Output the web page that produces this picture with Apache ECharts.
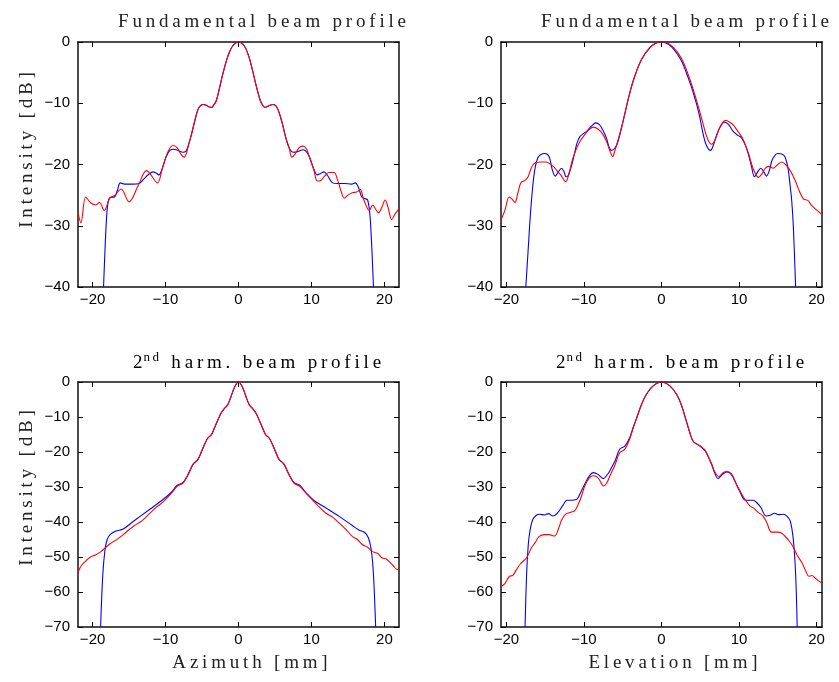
<!DOCTYPE html>
<html>
<head>
<meta charset="utf-8">
<script src="https://cdn.jsdelivr.net/npm/echarts@6/dist/echarts.min.js"></script>
<style>
  html, body { margin: 0; padding: 0; background: #fff; }
  #chart { width: 839px; height: 682px; }
</style>
</head>
<body>
<div id="chart"></div>
<script>
// Beam profiles: blue = measured transducer field, red = simulated field.

// Fundamental, azimuth
const azFundBlueX = [-18.5, -18.3, -18.1, -17.9, -17.6, -17.0, -16.6, -16.2, -15.6, -14.5, -13.6, -13.0, -12.3, -11.7, -11.3, -10.9, -10.5, -9.9, -9.4, -8.9, -8.3, -7.6, -7.2, -6.9, -6.45, -6.0, -5.55, -5.2, -4.86, -4.5, -4.1, -3.7, -3.4, -3.05, -2.6, -2.05, -1.45, -0.8, 0, 0.8, 1.4, 1.95, 2.5, 3.0, 3.35, 3.6, 4.0, 4.7, 5.1, 5.4, 5.75, 6.05, 6.5, 6.95, 7.5, 8.1, 8.85, 9.3, 9.7, 10.35, 10.8, 11.2, 11.7, 12.2, 12.9, 13.5, 14.5, 15.5, 16.0, 16.4, 16.9, 17.4, 17.7, 18.0, 18.25, 18.5];
const azFundBlueY = [-40, -34, -29, -26.3, -25.4, -25.3, -24.2, -23.0, -23.2, -23.2, -23.1, -22.4, -21.6, -21.2, -21.4, -21.7, -20.8, -18.7, -17.7, -17.5, -17.7, -18.0, -17.8, -17.0, -15.1, -12.9, -11.0, -10.4, -10.2, -10.3, -10.55, -10.7, -10.3, -9.6, -7.5, -4.75, -2.3, -0.65, 0, -0.65, -2.3, -4.75, -7.5, -9.6, -10.4, -10.65, -10.5, -10.2, -10.4, -11.0, -12.2, -13.5, -15.7, -17.3, -18.0, -17.9, -17.6, -17.9, -18.7, -20.8, -21.7, -21.5, -21.2, -21.8, -23.0, -23.1, -23.1, -23.2, -23.0, -23.6, -25.3, -25.6, -25.8, -28, -33, -40];
const azFundRedX = [-22, -21.6, -20.95, -20.3, -19.6, -19.05, -18.4, -17.6, -17.0, -16.1, -15.0, -13.7, -12.6, -11.1, -10.5, -9.9, -9.4, -8.95, -8.4, -7.9, -7.45, -7.1, -6.9, -6.45, -6.0, -5.55, -5.2, -4.86, -4.5, -4.1, -3.7, -3.4, -3.05, -2.6, -2.05, -1.45, -0.8, 0, 0.8, 1.4, 1.95, 2.5, 3.0, 3.35, 3.6, 4.0, 4.7, 5.1, 5.4, 5.75, 6.05, 6.5, 6.95, 7.3, 7.7, 8.3, 8.8, 9.3, 9.7, 10.35, 10.8, 11.3, 11.8, 12.4, 13.1, 13.6, 14.1, 14.5, 15.0, 15.6, 16.2, 16.7, 17.1, 17.6, 17.9, 18.4, 18.8, 19.2, 19.7, 20.1, 20.5, 21.0, 21.4, 22];
const azFundRedY = [-27.8, -29.5, -25.3, -26.2, -26.6, -26.2, -27.5, -25.4, -25.1, -24.0, -26.1, -23.3, -21.0, -23.0, -20.9, -18.6, -17.3, -16.9, -17.3, -18.3, -18.8, -18.0, -17.0, -15.1, -12.9, -11.0, -10.4, -10.2, -10.3, -10.55, -10.7, -10.3, -9.6, -7.5, -4.75, -2.3, -0.65, 0, -0.65, -2.3, -4.75, -7.5, -9.6, -10.4, -10.65, -10.5, -10.2, -10.4, -11.0, -12.2, -13.5, -15.7, -17.3, -18.8, -18.4, -17.3, -17.0, -17.4, -18.7, -21.0, -22.7, -22.6, -21.9, -21.3, -21.3, -22.6, -24.5, -25.5, -25.0, -24.6, -24.5, -24.1, -25.5, -27.0, -27.5, -26.6, -27.3, -27.9, -26.8, -25.8, -27.0, -29.0, -28.2, -27.2];

// Fundamental, elevation
const elFundBlueX = [-17.5, -17.2, -16.9, -16.6, -16.3, -15.95, -15.6, -15.05, -14.5, -14.1, -13.7, -13.3, -12.9, -12.6, -12.3, -12.0, -11.6, -11.2, -10.9, -10.5, -10.1, -9.6, -9.0, -8.47, -8.0, -7.6, -7.1, -6.8, -6.45, -6.0, -5.6, -5.16, -4.6, -4.09, -3.44, -2.58, -1.5, -0.8, -0.2, 0.5, 1.4, 2.5, 3.4, 4.17, 4.86, 5.38, 5.8, 6.32, 6.7, 7.1, 7.6, 8.1, 8.6, 9.25, 9.8, 10.3, 10.8, 11.2, 11.6, 12.0, 12.4, 12.8, 13.2, 13.55, 13.9, 14.3, 14.97, 15.5, 15.9, 16.3, 16.55, 16.8, 17.0, 17.3];
const elFundBlueY = [-40, -34, -28, -23.5, -20.5, -18.9, -18.4, -18.2, -18.7, -20.8, -21.9, -21.2, -20.6, -21.1, -22.0, -21.7, -20.2, -18.1, -16.5, -15.4, -15.0, -14.5, -13.7, -13.2, -13.5, -14.3, -15.7, -17.0, -17.7, -17.3, -16.2, -14.0, -11.0, -8.3, -5.56, -2.84, -0.93, -0.25, 0, -0.1, -0.9, -2.9, -5.7, -8.6, -11.8, -15.1, -16.9, -17.7, -16.8, -15.2, -13.8, -13.1, -13.4, -14.6, -15.2, -15.6, -16.8, -18.3, -20.3, -22.0, -21.2, -20.6, -21.2, -21.9, -21.0, -19.2, -18.2, -18.3, -18.7, -20.5, -23, -26, -30, -40];
const elFundRedX = [-20.7, -20.2, -19.65, -19.3, -18.9, -18.5, -18.1, -17.6, -17.2, -16.8, -16.3, -15.5, -14.9, -14.4, -13.9, -13.55, -13.0, -12.35, -12.0, -11.5, -11.0, -10.5, -10.0, -9.5, -8.8, -8.2, -7.6, -7.1, -6.7, -6.3, -6.0, -5.6, -5.16, -4.6, -4.09, -3.44, -2.58, -1.5, -0.7, 0.3, 1.5, 2.6, 3.5, 4.3, 5.03, 5.63, 6.0, 6.45, 6.9, 7.4, 7.8, 8.26, 8.8, 9.3, 9.68, 10.1, 10.45, 11.2, 11.8, 12.5, 12.9, 13.4, 13.8, 14.4, 15.0, 15.5, 16.0, 16.6, 17.2, 17.8, 18.3, 18.9, 19.3, 19.8, 20.2, 20.7];
const elFundRedY = [-29.1, -27.5, -25.3, -25.6, -26.2, -24.5, -22.9, -22.6, -22.0, -20.6, -19.7, -19.6, -19.6, -19.9, -20.4, -20.9, -21.7, -22.8, -21.8, -19.3, -17.5, -16.2, -15.3, -14.5, -13.9, -14.2, -15.0, -16.2, -17.6, -18.7, -17.7, -16.0, -14.0, -11.0, -8.3, -5.56, -2.84, -0.93, -0.15, 0, -0.85, -2.75, -5.5, -8.6, -11.8, -14.6, -16.0, -16.7, -16.0, -14.3, -13.3, -12.8, -13.1, -13.6, -14.3, -15.0, -15.7, -18.1, -20.6, -22.1, -21.6, -20.6, -20.3, -20.6, -20.0, -19.6, -20.0, -21.0, -22.5, -24.4, -25.6, -25.9, -26.6, -27.2, -27.6, -28.2];

// Second harmonic, azimuth
const azHarmBlueX = [-18.9, -18.6, -18.3, -18.0, -17.6, -16.8, -15.8, -14.4, -12.1, -10.3, -9.2, -8.4, -7.6, -6.9, -6.2, -5.55, -5.1, -4.6, -4.2, -3.7, -3.27, -2.8, -2.36, -1.9, -1.45, -1.0, -0.5, 0, 0.5, 1.0, 1.45, 1.9, 2.36, 2.8, 3.27, 3.7, 4.2, 4.6, 5.1, 5.55, 6.2, 6.9, 7.6, 8.4, 9.2, 10.3, 12.0, 13.8, 15.6, 16.5, 17.3, 17.8, 18.2, 18.5, 18.8];
const azHarmBlueY = [-70, -55, -48, -45.0, -43.6, -42.6, -42.0, -39.8, -36.3, -33.5, -31.5, -29.5, -28.7, -26.3, -23.4, -22.1, -20.0, -17.6, -16.0, -15.0, -13.0, -10.7, -8.8, -7.5, -6.4, -4.0, -1.3, 0, -1.3, -4.0, -6.4, -7.5, -8.8, -10.7, -13.0, -15.0, -16.0, -17.6, -20.0, -22.1, -23.4, -26.3, -28.7, -29.5, -31.5, -33.8, -36.0, -38.4, -41.0, -42.3, -43.0, -44.5, -48, -55, -70];
const azHarmRedX = [-22, -21.7, -21.2, -20.3, -19.6, -18.95, -17.6, -16.6, -15.8, -14.4, -13.2, -12.1, -11.2, -10.3, -9.2, -8.4, -7.6, -6.9, -6.2, -5.55, -5.1, -4.6, -4.2, -3.7, -3.27, -2.8, -2.36, -1.9, -1.45, -1.0, -0.5, 0, 0.5, 1.0, 1.45, 1.9, 2.36, 2.8, 3.27, 3.7, 4.2, 4.6, 5.1, 5.55, 6.2, 6.9, 7.6, 8.4, 9.2, 10.1, 11.0, 12.0, 12.9, 13.8, 14.7, 15.6, 16.3, 17.0, 17.7, 18.3, 19.1, 19.7, 20.2, 20.6, 21.2, 21.8, 22];
const azHarmRedY = [-54.6, -53.0, -51.7, -50.0, -49.4, -48.6, -46.2, -44.9, -43.6, -41.2, -39.6, -37.4, -35.7, -34.2, -31.8, -29.8, -28.9, -26.5, -23.5, -22.1, -20.0, -17.6, -16.0, -15.0, -13.0, -10.7, -8.8, -7.5, -6.4, -4.0, -1.3, 0, -1.3, -4.0, -6.4, -7.5, -8.8, -10.7, -13.0, -15.0, -16.0, -17.6, -20.0, -22.1, -23.4, -26.4, -28.9, -29.8, -31.7, -33.6, -35.6, -37.5, -38.6, -40.3, -42.1, -44.1, -45.0, -46.5, -47.2, -48.4, -49.0, -50.3, -50.5, -51.2, -52.5, -53.6, -53.4];

// Second harmonic, elevation
const elHarmBlueX = [-17.6, -17.4, -17.2, -17.0, -16.6, -16.1, -15.7, -15.1, -14.6, -14.0, -13.4, -12.7, -12.2, -11.6, -11.0, -10.75, -10.3, -9.9, -9.3, -8.8, -8.2, -7.5, -7.0, -6.67, -6.0, -5.4, -4.73, -4.1, -3.66, -3.2, -2.58, -1.94, -1.07, 0, 1.07, 1.94, 2.58, 3.14, 3.66, 4.1, 4.95, 5.5, 5.8, 6.45, 6.9, 7.3, 7.8, 8.4, 9.0, 9.7, 10.1, 10.75, 11.3, 11.8, 12.3, 12.8, 13.5, 14.0, 14.6, 15.1, 15.7, 16.2, 16.6, 17.0, 17.3, 17.5];
const elHarmBlueY = [-70, -55, -47, -43, -39.3, -38.0, -37.8, -38.0, -37.6, -38.3, -37.4, -35.2, -33.8, -33.8, -33.6, -33.0, -31.0, -29.2, -26.8, -25.9, -26.4, -27.6, -26.5, -25.4, -22.6, -19.2, -18.3, -15.9, -13.0, -10.2, -6.4, -3.5, -1.1, 0, -1.1, -3.5, -6.6, -10.6, -14.5, -17.0, -18.3, -19.4, -20.3, -23.5, -26.2, -27.6, -26.5, -25.7, -26.4, -29.4, -31.3, -33.7, -33.8, -33.8, -34.5, -35.8, -38.3, -38.1, -37.5, -37.9, -37.8, -38.4, -39.7, -45, -55, -70];
const elHarmRedX = [-20.7, -20.2, -19.6, -19.2, -18.7, -18.2, -17.4, -16.8, -16.3, -15.8, -15.1, -14.5, -13.8, -13.3, -12.9, -12.4, -11.8, -11.2, -10.75, -10.3, -9.9, -9.3, -8.8, -8.2, -7.44, -7.0, -6.67, -6.0, -5.4, -4.73, -4.1, -3.66, -3.2, -2.58, -1.94, -1.07, 0, 1.07, 1.94, 2.58, 3.14, 3.66, 4.1, 4.95, 5.5, 5.8, 6.45, 6.9, 7.44, 7.9, 8.4, 9.0, 9.7, 10.1, 10.75, 11.4, 11.8, 12.5, 13.1, 13.6, 14.2, 15.0, 15.5, 15.9, 16.5, 17.0, 17.5, 18.1, 18.6, 19.0, 19.4, 19.8, 20.3, 20.7];
const elHarmRedY = [-58.4, -57.6, -55.5, -55.3, -53.6, -52.0, -50.2, -47.5, -45.9, -44.2, -43.6, -43.6, -44.0, -42.0, -39.5, -37.8, -37.3, -36.8, -35.0, -32.5, -29.7, -27.4, -26.8, -27.3, -29.7, -28.6, -26.9, -23.7, -20.2, -19.2, -16.3, -13.2, -10.4, -6.5, -3.5, -1.1, 0, -1.1, -3.5, -6.7, -10.8, -14.5, -17.0, -18.2, -19.2, -20.2, -23.3, -25.8, -27.0, -26.0, -25.5, -26.2, -29.4, -31.0, -33.5, -35.4, -35.9, -37.3, -38.3, -40.3, -42.9, -42.9, -43.2, -44.0, -45.5, -47.2, -49.5, -51.6, -54.0, -55.5, -55.3, -56.0, -56.9, -57.4];

const xTicks = [-20, -10, 0, 10, 20];
const yTicksFund = [0, -10, -20, -30, -40];
const yTicksHarm = [0, -10, -20, -30, -40, -50, -60, -70];

const panelTitles = ['Fundamental beam profile', 'Fundamental beam profile'];
const harmTitle = ['2', 'nd', ' harm. beam profile'];
const yName = 'Intensity [dB]';
const xNames = ['Azimuth [mm]', 'Elevation [mm]'];

function pairs(xs, ys) { return xs.map((x, i) => [x, ys[i]]); }
// letter-spaced caption text
function spaced(s) { return s.split('').join('\u2009'); }
const minus = v => String(v).replace('-', '\u2212');

const grids = [
  { left: 78, top: 42, width: 321, height: 245 },
  { left: 501, top: 42, width: 321, height: 245 },
  { left: 78, top: 382, width: 321, height: 245 },
  { left: 501, top: 382, width: 321, height: 245 }
];
const xRanges = [[-22, 22], [-20.7, 20.7], [-22, 22], [-20.7, 20.7]];
const yRanges = [[-40, 0], [-40, 0], [-70, 0], [-70, 0]];
const yTickSets = [yTicksFund, yTicksFund, yTicksHarm, yTicksHarm];
const seriesData = [
  [pairs(azFundBlueX, azFundBlueY), pairs(azFundRedX, azFundRedY)],
  [pairs(elFundBlueX, elFundBlueY), pairs(elFundRedX, elFundRedY)],
  [pairs(azHarmBlueX, azHarmBlueY), pairs(azHarmRedX, azHarmRedY)],
  [pairs(elHarmBlueX, elHarmBlueY), pairs(elHarmRedX, elHarmRedY)]
];

const labelFont = { fontFamily: 'Liberation Sans', fontSize: 15, color: '#000' };
const xAxes = [], yAxes = [], series = [];
grids.forEach((g, i) => {
  const tickStyle = { show: true, inside: true, length: 5, lineStyle: { color: '#000', width: 1 } };
  const boxLine = { show: true, onZero: false, lineStyle: { color: '#111', width: 1.5 } };
  xAxes.push({
    type: 'value', gridIndex: i, position: 'bottom', min: xRanges[i][0], max: xRanges[i][1],
    axisLine: boxLine,
    axisTick: Object.assign({ customValues: xTicks }, tickStyle),
    axisLabel: Object.assign({ customValues: xTicks, margin: 5, formatter: minus }, labelFont),
    splitLine: { show: false }
  });
  xAxes.push({
    type: 'value', gridIndex: i, position: 'top', min: xRanges[i][0], max: xRanges[i][1],
    axisLine: boxLine,
    axisTick: Object.assign({ customValues: xTicks }, tickStyle),
    axisLabel: { show: false }, splitLine: { show: false }
  });
  yAxes.push({
    type: 'value', gridIndex: i, position: 'left', min: yRanges[i][0], max: yRanges[i][1],
    axisLine: boxLine,
    axisTick: Object.assign({ customValues: yTickSets[i] }, tickStyle),
    axisLabel: Object.assign({ customValues: yTickSets[i], margin: 8, formatter: minus }, labelFont),
    splitLine: { show: false }
  });
  yAxes.push({
    type: 'value', gridIndex: i, position: 'right', min: yRanges[i][0], max: yRanges[i][1],
    axisLine: boxLine,
    axisTick: Object.assign({ customValues: yTickSets[i] }, tickStyle),
    axisLabel: { show: false }, splitLine: { show: false }
  });
  ['#0000ff', '#ff0000'].forEach((c, k) => {
    series.push({
      type: 'line', xAxisIndex: i * 2, yAxisIndex: i * 2, data: seriesData[i][k],
      showSymbol: false, smooth: 0.35, clip: true,
      lineStyle: { color: c, width: 1.1 }, z: 2 + k
    });
  });
});

const serif = 'Liberation Serif';
const capFont = { fontFamily: serif, fontSize: 19, fill: '#222' };
function caption(text, x, y, rot) {
  return { type: 'text', x: x, y: y, rotation: rot || 0,
    style: Object.assign({ text: spaced(text), textAlign: 'center', textVerticalAlign: 'middle' }, capFont) };
}
function harmCaption(x, y) {
  return { type: 'text', x: x, y: y, style: {
    text: '{a|' + harmTitle[0] + '}{s|' + spaced(harmTitle[1]) + '}{a|\u2009' + spaced(harmTitle[2]) + '}',
    textAlign: 'center', textVerticalAlign: 'middle',
    rich: { a: { fontFamily: serif, fontSize: 19, color: '#222', verticalAlign: 'bottom' },
            s: { fontFamily: serif, fontSize: 13, color: '#222', verticalAlign: 'top', padding: [0, 0, 9, 1] } } } };
}
const graphic = [
  caption(panelTitles[0], 262, 22),
  caption(panelTitles[1], 685, 22),
  harmCaption(257, 362),
  harmCaption(680, 362),
  caption(yName, 27, 150, Math.PI / 2),
  caption(yName, 27, 488, Math.PI / 2),
  caption(xNames[0], 250, 663),
  caption(xNames[1], 673, 663)
];

const chart = echarts.init(document.getElementById('chart'), null, { renderer: 'canvas' });
chart.setOption({
  animation: false,
  backgroundColor: '#fff',
  grid: grids,
  xAxis: xAxes,
  yAxis: yAxes,
  series: series,
  graphic: graphic
});
</script>
</body>
</html>
